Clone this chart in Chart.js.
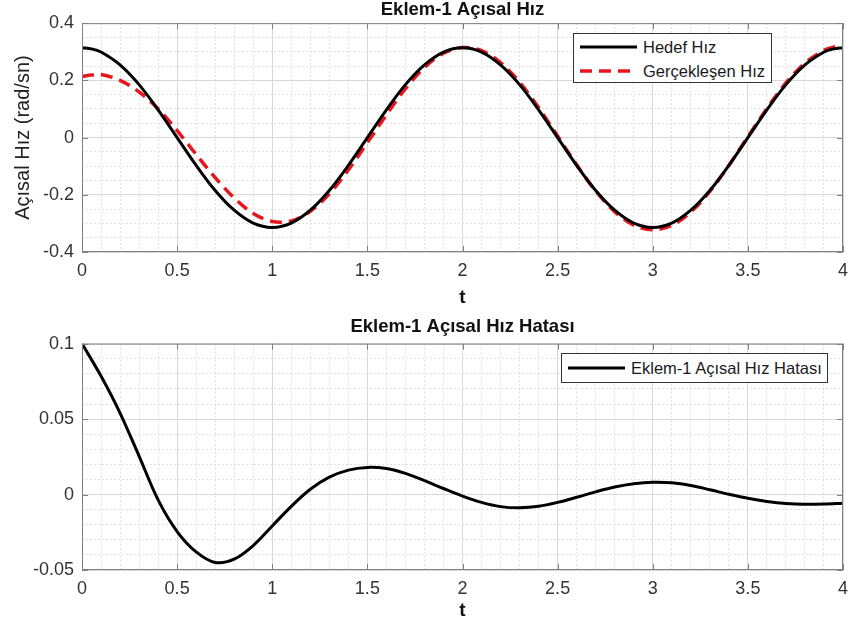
<!DOCTYPE html>
<html>
<head>
<meta charset="utf-8">
<script src="https://cdn.jsdelivr.net/npm/chart.js"></script>
<style>
  body { margin: 0; background: #fff; }
  #wrap { position: relative; width: 851px; height: 630px; }
  canvas { position: absolute; left: 0; }
  .legend { position: absolute; background: #fff; border: 1px solid #333;
            font: 16.5px "Liberation Sans", Arial, sans-serif; color: #1a1a1a; }
  .legend .row { position: absolute; left: 0; height: 20px; display: flex; align-items: center; white-space: nowrap; }
  .legend svg { margin-left: 6px; margin-right: 6px; }
</style>
</head>
<body>
<div id="wrap">
  <canvas id="hiz" width="851" height="315" style="top:0"></canvas>
  <canvas id="hata" width="851" height="315" style="top:315px"></canvas>
  <div id="legendHiz" class="legend" style="left:573px; top:33px; width:197px; height:48px"></div>
  <div id="legendHata" class="legend" style="left:561px; top:353px; width:265px; height:28px"></div>
</div>
<script>
"use strict"

// Zaman ekseni (s) - hız grafiği (uçlarda sık örnek)
const zamanHiz = [0, 0.05, 0.1, 0.2, 0.3, 0.4, 0.5, 0.6, 0.7, 0.8, 0.9, 1.0,
  1.1, 1.2, 1.3, 1.4, 1.5, 1.6, 1.7, 1.8, 1.9, 2.0,
  2.1, 2.2, 2.3, 2.4, 2.5, 2.6, 2.7, 2.8, 2.9, 3.0,
  3.1, 3.2, 3.3, 3.4, 3.5, 3.6, 3.7, 3.8, 3.9, 3.95, 4.0];

// Hedef hız (rad/sn)
const hedefHiz = [0.314, 0.310, 0.299, 0.254, 0.185, 0.097, 0, -0.097, -0.185, -0.254, -0.299, -0.314,
  -0.299, -0.254, -0.185, -0.097, 0, 0.097, 0.185, 0.254, 0.299, 0.314,
  0.299, 0.254, 0.185, 0.097, 0, -0.097, -0.185, -0.254, -0.299, -0.314,
  -0.299, -0.254, -0.185, -0.097, 0, 0.097, 0.185, 0.254, 0.299, 0.310, 0.314];

// Gerçekleşen hız (rad/sn)
const gerceklesenHiz = [0.214, 0.2185, 0.2205, 0.2000, 0.1595, 0.1005, 0.0245, -0.059, -0.140, -0.2112, -0.2652, -0.2932,
  -0.2912, -0.2575, -0.1965, -0.1132, -0.018, 0.0798, 0.171, 0.2448, 0.295, 0.315,
  0.3042, 0.262, 0.1938, 0.1048, 0.0052, -0.0952, -0.1868, -0.259, -0.3062, -0.3222,
  -0.3068, -0.260, -0.1882, -0.0972, 0.0025, 0.1016, 0.191, 0.2605, 0.3053, 0.3162, 0.3197];

// Zaman ekseni (s) - hata grafiği
const zamanHata = [0, 0.1, 0.2, 0.3, 0.4, 0.5, 0.6, 0.7, 0.8, 0.9, 1.0,
  1.1, 1.2, 1.3, 1.4, 1.5, 1.6, 1.7, 1.8, 1.9, 2.0,
  2.1, 2.2, 2.3, 2.4, 2.5, 2.6, 2.7, 2.8, 2.9, 3.0,
  3.1, 3.2, 3.3, 3.4, 3.5, 3.6, 3.7, 3.8, 3.9, 4.0];

// Açısal hız hatası
const hizHatasi = [0.100, 0.0785, 0.054, 0.0255, -0.0035, -0.0245, -0.038, -0.045, -0.0428, -0.0338, -0.0208,
  -0.0078, 0.0035, 0.0115, 0.0162, 0.018, 0.0172, 0.014, 0.0092, 0.004, -0.001,
  -0.0052, -0.008, -0.0088, -0.0078, -0.0052, -0.0018, 0.0018, 0.005, 0.0072, 0.0082,
  0.0078, 0.006, 0.0032, 0.0002, -0.0025, -0.0046, -0.006, -0.0065, -0.0063, -0.0057];

// Eksen aralıkları ve etiket adımları
const xEtiketAdim = 0.5, xIzgaraAdim = 0.1;
const hizEtiketAdim = 0.2, hizIzgaraAdim = 0.05;
const hataEtiketAdim = 0.05, hataIzgaraAdim = 0.01;

Chart.defaults.font.family = '"Liberation Sans", Arial, sans-serif';
Chart.defaults.color = '#333';

const cerceveRenk = '#808080';

function anaDeger(v, adim) {
  const k = v / adim;
  return Math.abs(k - Math.round(k)) < 1e-6;
}

function etiket(v) {
  const r = Math.round(v * 1000) / 1000;
  return String(r);
}

// Çerçeve ve içe dönük tik çizgileri (MATLAB görünümü)
const cerceve = {
  id: 'cerceve',
  afterDatasetsDraw(chart, args, opts) {
    const {ctx, chartArea: a, scales: {x, y}} = chart;
    ctx.save();
    ctx.strokeStyle = cerceveRenk;
    ctx.lineWidth = 1;
    ctx.strokeRect(a.left + 0.5, a.top + 0.5, a.right - a.left - 1, a.bottom - a.top - 1);
    ctx.beginPath();
    x.ticks.forEach(t => {
      if (!anaDeger(t.value, opts.xAdim)) return;
      const px = Math.round(x.getPixelForValue(t.value)) + 0.5;
      ctx.moveTo(px, a.bottom); ctx.lineTo(px, a.bottom - 6);
      ctx.moveTo(px, a.top); ctx.lineTo(px, a.top + 6);
    });
    y.ticks.forEach(t => {
      if (!anaDeger(t.value, opts.yAdim)) return;
      const py = Math.round(y.getPixelForValue(t.value)) + 0.5;
      ctx.moveTo(a.left, py); ctx.lineTo(a.left + 6, py);
      ctx.moveTo(a.right, py); ctx.lineTo(a.right - 6, py);
    });
    ctx.stroke();
    ctx.restore();
  }
};

function izgara(adim) {
  return {
    drawTicks: false,
    color: c => anaDeger(c.tick.value, adim) ? '#d8d8d8' : '#e0e0e0',
    lineWidth: 1
  };
}

function kenar(adim) {
  return { display: false, dash: c => anaDeger(c.tick.value, adim) ? [] : [2, 2] };
}

function noktalar(xs, ys) {
  return xs.map((t, i) => ({x: t, y: ys[i]}));
}

function grafik(id, o) {
  return new Chart(document.getElementById(id), {
    type: 'line',
    data: { datasets: o.datasets },
    options: {
      responsive: false,
      animation: false,
      layout: { padding: { left: 0, right: 8, top: 0, bottom: o.altBosluk } },
      elements: { point: { radius: 0 }, line: { tension: 0.33, borderCapStyle: 'butt' } },
      plugins: {
        legend: { display: false },
        tooltip: { enabled: false },
        title: {
          display: true, text: o.baslik, fullSize: false, color: '#111',
          font: { size: 18.5, weight: 'bold', lineHeight: 0.9 },
          padding: o.baslikBosluk
        },
        cerceve: { xAdim: xEtiketAdim, yAdim: o.yEtiket }
      },
      scales: {
        x: {
          type: 'linear', min: 0, max: 4,
          ticks: {
            stepSize: xIzgaraAdim, autoSkip: false, maxRotation: 0, padding: 8,
            font: { size: 18 },
            callback: v => anaDeger(v, xEtiketAdim) ? etiket(v) : ''
          },
          grid: izgara(xEtiketAdim),
          border: kenar(xEtiketAdim),
          title: { display: true, text: 't', color: '#111', font: { size: 19, weight: 'bold' }, padding: 0 },
          afterFit: s => { s.height = o.xYukseklik; s.paddingLeft = 0; s.paddingRight = 0; }
        },
        y: {
          type: 'linear', min: o.yMin, max: o.yMax,
          ticks: {
            stepSize: o.yIzgara, autoSkip: false, padding: 8,
            font: { size: 18 },
            callback: v => anaDeger(v, o.yEtiket) ? etiket(v) : ''
          },
          grid: izgara(o.yEtiket),
          border: kenar(o.yEtiket),
          title: o.yBaslik,
          afterFit: s => { s.width = 82; }
        }
      }
    },
    plugins: [cerceve]
  });
}

const hizGrafik = grafik('hiz', {
  baslik: 'Eklem-1 Açısal Hız',
  baslikBosluk: { top: 2, bottom: 4.5 },
  altBosluk: 6, xYukseklik: 57,
  yMin: -0.4, yMax: 0.4, yIzgara: hizIzgaraAdim, yEtiket: hizEtiketAdim,
  yBaslik: { display: true, text: 'Açısal Hız (rad/sn)', color: '#222', font: { size: 20 }, padding: { top: 11, bottom: 0 } },
  datasets: [
    { label: 'Hedef Hız', data: noktalar(zamanHiz, hedefHiz), borderColor: '#000', borderWidth: 3 },
    { label: 'Gerçekleşen Hız', data: noktalar(zamanHiz, gerceklesenHiz), borderColor: '#e8161c', borderWidth: 3.5, borderDash: [12, 7] }
  ]
});

const hataGrafik = grafik('hata', {
  baslik: 'Eklem-1 Açısal Hız Hatası',
  baslikBosluk: { top: 4, bottom: 8 },
  altBosluk: 8, xYukseklik: 52,
  yMin: -0.05, yMax: 0.1, yIzgara: hataIzgaraAdim, yEtiket: hataEtiketAdim,
  yBaslik: { display: false },
  datasets: [
    { label: 'Eklem-1 Açısal Hız Hatası', data: noktalar(zamanHata, hizHatasi), borderColor: '#000', borderWidth: 3 }
  ]
});

// Lejant: veri setlerinden üretilir
function lejant(chart, elId, satirlar) {
  const el = document.getElementById(elId);
  chart.data.datasets.forEach((ds, i) => {
    const row = document.createElement('div');
    row.className = 'row';
    row.style.top = satirlar[i] + 'px';
    const dash = ds.borderDash ? ds.borderDash.join(' ') : 'none';
    row.innerHTML = '<svg width="57" height="8"><line x1="0" y1="4" x2="57" y2="4" stroke="' + ds.borderColor +
      '" stroke-width="' + ds.borderWidth + '" stroke-dasharray="' + dash + '"/></svg><span>' + ds.label + '</span>';
    el.appendChild(row);
  });
}

lejant(hizGrafik, 'legendHiz', [3, 27]);
lejant(hataGrafik, 'legendHata', [4]);
</script>
</body>
</html>
